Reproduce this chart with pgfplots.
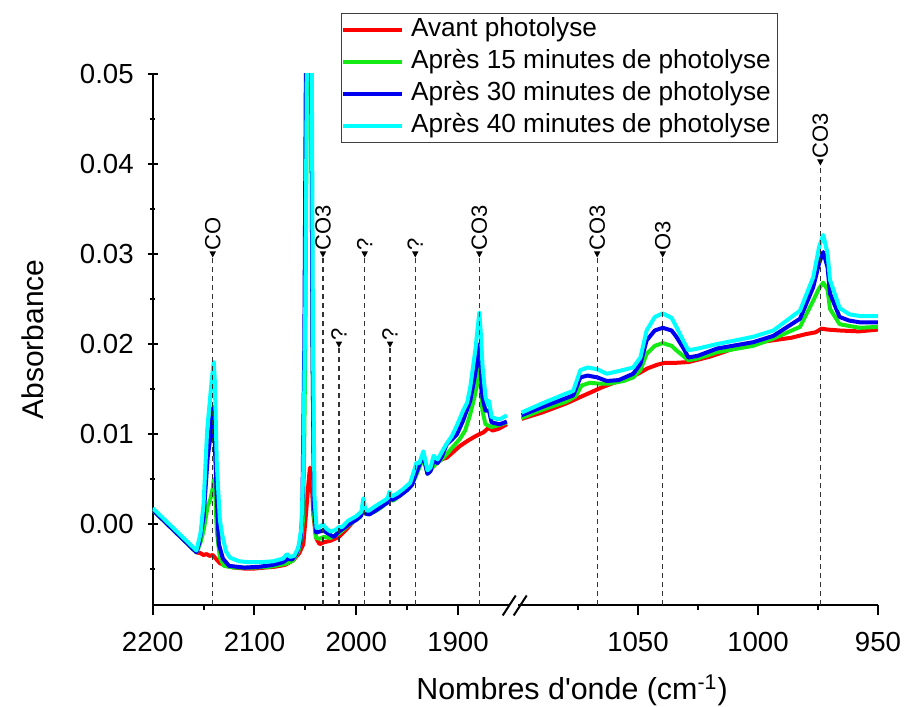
\documentclass[border=0pt]{standalone}
\usepackage{pgfplots}
\pgfplotsset{compat=1.18}
\usepackage{fontspec}
\setmainfont{Liberation Sans}
\usetikzlibrary{arrows.meta,calc}

\definecolor{cR}{RGB}{255,0,0}
\definecolor{cG}{RGB}{20,235,20}
\definecolor{cB}{RGB}{0,0,240}
\definecolor{cC}{RGB}{0,255,255}

\newcommand{\ann}[3]{%
  \draw[black!80, line width=0.6pt, dash pattern=on 2.5pt off 2pt] (axis cs:#1,-0.009) -- (axis cs:#1,#2);
  \fill[black] (axis cs:#1,#2) -- ++(-1.6pt,3pt) -- ++(3.2pt,0pt) -- cycle;
  \node[rotate=90, anchor=west, inner sep=0.4pt, font=\fontsize{11}{13}\selectfont] at ([yshift=3pt]axis cs:#1,#2) {#3};
}

\pgfplotsset{
  base/.style={
    scale only axis,
    height=266pt,
    ymin=-0.009, ymax=0.05,
    x dir=reverse,
    axis x line=bottom,
    axis line style={-, line width=1pt},
    every outer x axis line/.append style={-},
    x axis line style={-},
    tick style={line width=1pt, black},
    major tick length=5pt, minor tick length=2.5pt,
    tick align=outside,
    clip mode=individual,
    tick label style={font=\fontsize{13.8}{16}\selectfont},
    xticklabel style={yshift=-5pt},
    /pgf/number format/assume math mode=true,
    /pgf/number format/set thousands separator={},
    every axis plot/.append style={line width=2pt, line join=round, mark=none},
  }
}

\begin{document}
\begin{tikzpicture}
\path[use as bounding box] (-76.35pt,-50.75pt) rectangle (376.65pt,302.75pt);
\begin{axis}[base, name=L, at={(0,0)}, anchor=south west,
  width=178.1pt,
  xmin=1850, xmax=2200,
  axis y line=left,
  every outer y axis line/.append style={-},
  y axis line style={-},
  scaled y ticks=false,
  xtick={1900,2000,2100,2200}, minor xtick={1950,2050,2150},
  ytick={0,0.01,0.02,0.03,0.04,0.05},
  minor ytick={-0.005,0.005,0.015,0.025,0.035,0.045},
  yticklabel style={xshift=-3.5pt, /pgf/number format/fixed, /pgf/number format/fixed zerofill, /pgf/number format/precision=2},
  ylabel={Absorbance},
  ylabel style={at={(axis description cs:-0.336,0.5)}, anchor=center, font=\fontsize{15}{18}\selectfont},
  xlabel={Nombres d\textquotesingle onde (cm\textsuperscript{-1})},
  xlabel style={at={(axis description cs:1.1772,-0.1776)}, anchor=base, font=\fontsize{15.2}{18}\selectfont},
  legend style={at={(axis description cs:0.5286,1.1137)}, anchor=north west,
    draw=black!75, line width=0.5pt, inner xsep=0pt, inner ysep=0.3pt,
    font=\fontsize{13.1}{15}\selectfont, row sep=0pt,
    nodes={text height=9.5pt, text depth=3pt, inner ysep=1.75pt, inner xsep=3.3pt}},
  legend cell align=left,
  legend image code/.code={\draw[#1, line width=2pt] (0pt,0pt) -- (29.5pt,0pt);},
]
% Avant photolyse
\addplot[cR] coordinates {
(2200,0.0016) (2157,-0.0031) (2153,-0.0032) (2150,-0.0034) (2147,-0.0033) (2144,-0.0035)
(2141,-0.0034) (2138,-0.0038) (2134,-0.0043) (2128,-0.0046) (2120,-0.0048) (2110,-0.0049)
(2100,-0.0049) (2090,-0.0048) (2080,-0.0047) (2070,-0.0045) (2062,-0.0040) (2056,-0.0032)
(2052,-0.0022) (2049.5,0.0010) (2047,0.0045) (2045.5,0.0063) (2044,0.0050) (2042,0.0010)
(2039.5,-0.0015) (2036,-0.0022) (2032,-0.0020) (2025,-0.0018) (2017,-0.0014) (2010,-0.0006)
(2003,0.0003) (1996,0.0009) (1992.5,0.0017) (1989,0.0012) (1980,0.0018) (1972,0.0023)
(1967.5,0.0029) (1963,0.0029) (1955,0.0036) (1948,0.0042) (1942,0.0053) (1938,0.0065)
(1934,0.0077) (1930,0.0057) (1926,0.0062) (1921,0.0068) (1916,0.0072) (1911,0.0074)
(1905,0.0080) (1898,0.0087) (1890,0.0093) (1884,0.0097) (1879,0.0100) (1875,0.0102)
(1870,0.0107) (1866,0.0104) (1860,0.0106) (1852,0.0111)
};
\addlegendentry{Avant photolyse}
% 15 min
\addplot[cG] coordinates {
(2200,0.0016) (2157,-0.0031) (2153,-0.0020) (2150,-0.0007) (2146,0.0020) (2143.5,0.0027)
(2141,0.0040) (2140,0.0050) (2138.5,0.0035) (2137,-0.0007) (2134,-0.0037) (2130,-0.0046)
(2120,-0.0048) (2100,-0.0048) (2085,-0.0047) (2070,-0.0044) (2062,-0.0040) (2057,-0.0030)
(2054,-0.0015) (2052,0.0010) (2050,0.0200) (2048,0.0600) (2046,0.0800) (2044.5,0.0600)
(2043,0.0200) (2041.5,0.0010) (2039.5,-0.0015) (2036,-0.0016) (2032,-0.0014) (2025,-0.0015)
(2017,-0.0010) (2010,-0.0003) (2003,0.0003) (1996,0.0008) (1993,0.0020) (1990,0.0011)
(1982,0.0014) (1974,0.0020) (1967.5,0.0029) (1964,0.0026) (1956,0.0033) (1948,0.0040)
(1942,0.0052) (1938,0.0063) (1934,0.0074) (1930,0.0056) (1926,0.0062) (1921,0.0068)
(1916,0.0072) (1911,0.0078) (1905,0.0086) (1898,0.0095) (1893,0.0104) (1888,0.0122)
(1883,0.0145) (1879,0.0174) (1876,0.0126) (1873,0.0111) (1867,0.0108) (1860,0.0110)
(1852,0.0113)
};
\addlegendentry{Après 15 minutes de photolyse}
% 30 min
\addplot[cB] coordinates {
(2200,0.0016) (2157,-0.0031) (2154,-0.0020) (2150,0.0008) (2146,0.0074) (2142.5,0.0104)
(2140.5,0.0130) (2139,0.0090) (2137,0.0030) (2135,-0.0022) (2131,-0.0038) (2125,-0.0046)
(2110,-0.0048) (2095,-0.0047) (2082,-0.0045) (2072,-0.0042) (2067,-0.0038) (2063,-0.0039)
(2059,-0.0033) (2055,-0.0020) (2053,0.0010) (2051,0.0200) (2049,0.0600) (2046.5,0.0850)
(2044.5,0.0600) (2043,0.0200) (2041.5,0.0020) (2039.5,-0.0009) (2036,-0.0008) (2032,-0.0007)
(2028,-0.0010) (2022,-0.0014) (2017,-0.0008) (2012,-0.0004) (2006,0.0001) (2000,0.0005)
(1995,0.0010) (1993,0.0024) (1991,0.0012) (1987,0.0011) (1980,0.0016) (1972,0.0022)
(1968,0.0025) (1967.5,0.0031) (1965,0.0027) (1958,0.0031) (1950,0.0038) (1945,0.0044)
(1942,0.0054) (1939,0.0063) (1934,0.0076) (1930,0.0056) (1927,0.0059) (1924,0.0071)
(1920,0.0068) (1916,0.0075) (1911,0.0089) (1906,0.0094) (1901,0.0100) (1895,0.0115)
(1888,0.0137) (1883,0.0167) (1879,0.0200) (1876,0.0141) (1873,0.0126) (1869.5,0.0126)
(1867,0.0113) (1859,0.0111) (1852,0.0114)
};
\addlegendentry{Après 30 minutes de photolyse}
% 40 min
\addplot[cC] coordinates {
(2200,0.0018) (2157,-0.0029) (2153,-0.0010) (2150,0.0023) (2146.5,0.0104) (2142,0.0160)
(2140,0.0180) (2139,0.0160) (2137,0.0067) (2134,0.0005) (2132,-0.0010) (2128,-0.0030)
(2124,-0.0037) (2115,-0.0041) (2105,-0.0042) (2095,-0.0042) (2082,-0.0041) (2072,-0.0038)
(2068,-0.0033) (2065,-0.0036) (2061,-0.0035) (2057,-0.0026) (2054,-0.0005) (2052,0.0060)
(2050,0.0250) (2048,0.0600) (2046,0.0900) (2044,0.0600) (2042.5,0.0200) (2041,0.0030)
(2039,-0.0004) (2036,-0.0003) (2033,0.0000) (2029,-0.0005) (2025,-0.0008) (2020,-0.0006)
(2017,-0.0003) (2014,-0.0003) (2008,0.0004) (2000,0.0009) (1995,0.0014) (1993,0.0029)
(1991,0.0016) (1988,0.0015) (1980,0.0021) (1973,0.0026) (1969,0.0029) (1967.5,0.0036)
(1965,0.0031) (1960,0.0034) (1954,0.0039) (1947,0.0046) (1943,0.0060) (1941,0.0068)
(1938,0.0068) (1934,0.0081) (1930,0.0060) (1927,0.0063) (1924,0.0076) (1920,0.0072)
(1916,0.0080) (1912,0.0088) (1906,0.0098) (1901,0.0110) (1895,0.0126) (1891,0.0135)
(1888,0.0152) (1883,0.0193) (1880,0.0225) (1879,0.0235) (1877.5,0.0210) (1875.8,0.0174)
(1873,0.0141) (1870.5,0.0132) (1869.5,0.0137) (1867,0.0119) (1862,0.0117) (1858,0.0117)
(1852,0.0121)
};
\addlegendentry{Après 40 minutes de photolyse}
\ann{2141}{0.0296}{CO}
\ann{2032.7}{0.0296}{CO3}
\ann{2017}{0.0196}{?}
\ann{1991.7}{0.0296}{?}
\ann{1966.8}{0.0196}{?}
\ann{1942}{0.0296}{?}
\ann{1879}{0.0296}{CO3}
\end{axis}

\begin{axis}[base, name=R, at={($(L.south east)+(4.55pt,0pt)$)}, anchor=south west,
  width=180pt,
  xmin=950, xmax=1100,
  axis y line=none,
  xtick={950,1000,1050}, minor xtick={975,1025,1075},
]
\addplot[cR] coordinates {
(1098.5,0.0117) (1090,0.0124) (1080,0.0134) (1075,0.0140) (1070,0.0146) (1065,0.0152)
(1060,0.0157) (1055,0.0161) (1050,0.0167) (1046,0.0173) (1042,0.0177) (1039,0.0179)
(1035,0.0179) (1029,0.0180) (1020,0.0186) (1010,0.0195) (1002,0.0201) (994,0.0204)
(986,0.0207) (980,0.0211) (976,0.0213) (973.5,0.0217) (971,0.0216) (966,0.0215)
(958,0.0214) (950,0.0216)
};
\addplot[cG] coordinates {
(1098.5,0.0118) (1090,0.0127) (1080,0.0136) (1076,0.0142) (1073.5,0.0154) (1070,0.0157)
(1066,0.0156) (1062,0.0156) (1056,0.0159) (1052,0.0163) (1049,0.0171) (1046.4,0.0189)
(1043,0.0198) (1039.7,0.0201) (1036,0.0198) (1034,0.0193) (1029,0.0182) (1025,0.0184)
(1017,0.0191) (1002,0.0198) (993.6,0.0206) (982.5,0.0219) (977,0.0248) (974.5,0.0262)
(972.8,0.0268) (971,0.0260) (970,0.0239) (966,0.0222) (962,0.0220) (957.5,0.0218)
(950,0.0219)
};
\addplot[cB] coordinates {
(1098.5,0.0121) (1090,0.0130) (1080,0.0140) (1077,0.0143) (1074,0.0163) (1071,0.0165)
(1067,0.0163) (1063,0.0159) (1058,0.0160) (1052,0.0167) (1049,0.0178) (1046.4,0.0204)
(1043,0.0215) (1039.7,0.0218) (1036,0.0215) (1034,0.0208) (1031,0.0195) (1029,0.0185)
(1025,0.0187) (1017,0.0195) (1002,0.0202) (993.6,0.0209) (982.5,0.0228) (977,0.0263)
(974.5,0.0290) (972.8,0.0302) (971,0.0285) (970,0.0256) (966,0.0230) (962,0.0226)
(957.5,0.0224) (950,0.0224)
};
\addplot[cC] coordinates {
(1098.5,0.0124) (1090,0.0134) (1080,0.0145) (1077,0.0148) (1074,0.0171) (1071,0.0174)
(1067,0.0172) (1063,0.0167) (1058,0.0170) (1052,0.0174) (1049,0.0185) (1046.4,0.0215)
(1043,0.0230) (1039.7,0.0234) (1036,0.0229) (1034,0.0219) (1031,0.0203) (1029,0.0193)
(1025,0.0195) (1017,0.0200) (1002,0.0208) (993.6,0.0215) (982.5,0.0237) (977,0.0274)
(974.5,0.0308) (972.8,0.0321) (971,0.0300) (970,0.0271) (966,0.0240) (962,0.0233)
(957.5,0.0231) (950,0.0231)
};
\ann{1067}{0.0296}{CO3}
\ann{1039.7}{0.0296}{O3}
\ann{974}{0.0398}{CO3}
\end{axis}
% axis break marks
\draw[line width=1pt] (175pt,-5pt) -- (181.5pt,5pt);
\draw[line width=1pt] (180.5pt,-5pt) -- (187pt,5pt);
\end{tikzpicture}
\end{document}
